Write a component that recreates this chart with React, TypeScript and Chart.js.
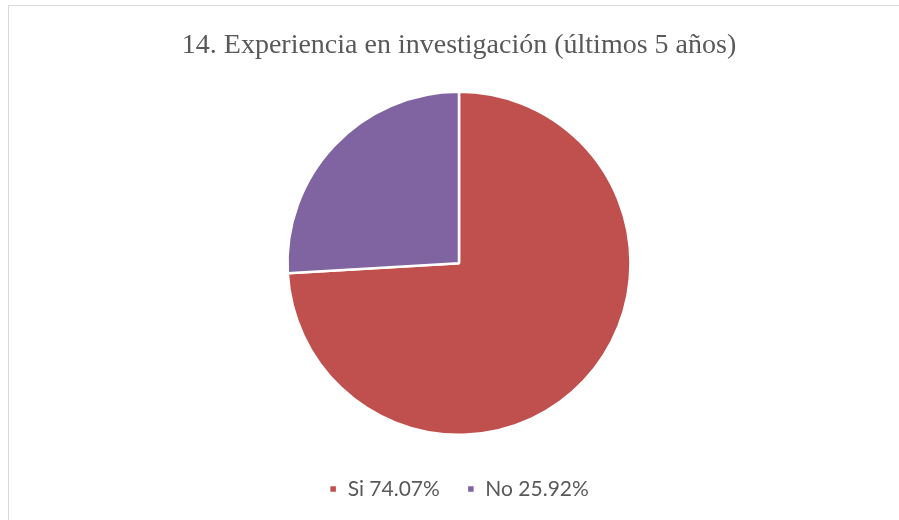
import React, { useEffect, useRef } from "react";
import { Chart, registerables } from "chart.js";

Chart.register(...registerables);

const TITLE = "14. Experiencia en investigación (últimos 5 años)";
const categories = ["Si", "No"];
const values = [74.07, 25.92];
const colors = ["#C0504D", "#8064A2"];

const frame = {
  id: "frame",
  beforeDraw(chart: any) {
    const ctx = chart.ctx;
    ctx.save();
    ctx.fillStyle = "#ffffff";
    ctx.fillRect(0, 0, chart.width, chart.height);
    ctx.strokeStyle = "#D9D9D9";
    ctx.lineWidth = 1;
    ctx.strokeRect(8.5, 5.5, 2000, 2000);
    ctx.restore();
  },
};

export default function App() {
  const ref = useRef<HTMLCanvasElement>(null);
  useEffect(() => {
    if (!ref.current) return;
    const chart = new Chart(ref.current, {
      type: "pie",
      data: {
        labels: categories.map((c, i) => `${c} ${values[i].toFixed(2)}%`),
        datasets: [
          {
            data: values,
            backgroundColor: colors,
            borderColor: "#ffffff",
            borderWidth: 2.5,
            radius: 171.5,
          },
        ],
      },
      options: {
        responsive: false,
        animation: false,
        devicePixelRatio: 1,
        layout: { padding: { top: 0, bottom: 10.5, left: 0, right: 0 } },
        plugins: {
          title: {
            display: true,
            text: TITLE,
            color: "#595959",
            font: { family: "'Liberation Serif', 'Times New Roman', serif", size: 28, weight: "normal", lineHeight: 1.2 },
            padding: { top: 29, bottom: 12.4 },
          },
          legend: {
            position: "bottom",
            labels: {
              color: "#595959",
              boxWidth: 8,
              boxHeight: 8,
              padding: 27,
              font: { family: "Lato, 'Open Sans', sans-serif", size: 21 },
            },
          },
          tooltip: { enabled: false },
        },
      },
      plugins: [frame],
    });
    return () => chart.destroy();
  }, []);
  return (
    <div style={{ position: "absolute", left: 0, top: 0, width: 899, height: 520, overflow: "hidden", background: "#fff" }}>
      <canvas ref={ref} width={918} height={520} style={{ width: 918, height: 520, display: "block" }} />
    </div>
  );
}
